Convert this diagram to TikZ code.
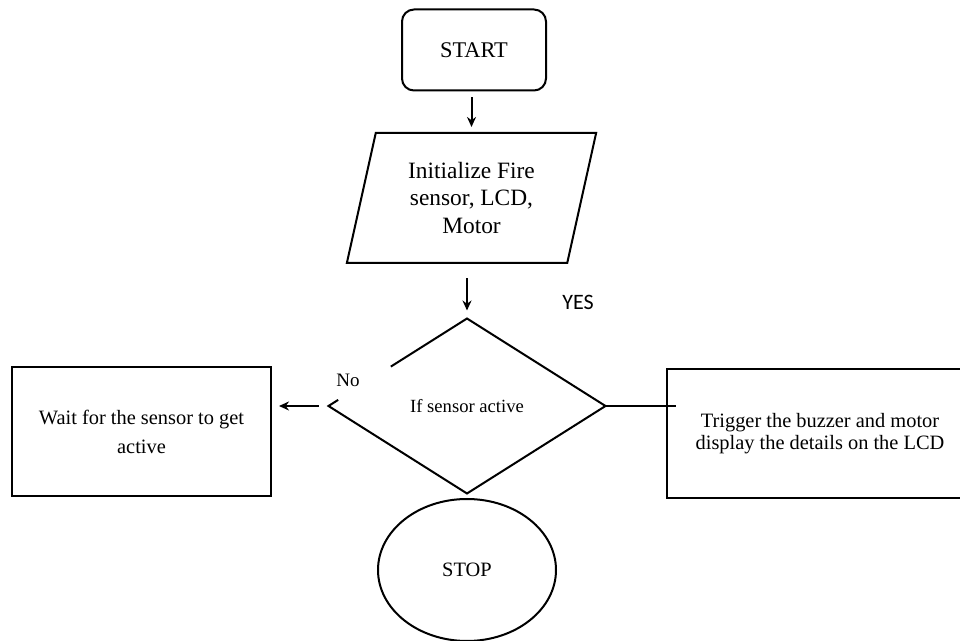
\documentclass[tikz,border=0pt]{standalone}
\usepackage{fontspec}
\setmainfont{Liberation Serif}
\newfontfamily\yesfont{Carlito}
\usetikzlibrary{arrows.meta, calc, positioning, shapes.geometric}

\begin{document}
\begin{tikzpicture}[>={Stealth[length=5pt, width=4.5pt]}, x=0.5pt, y=-0.5pt, line width=1pt,
  startbox/.style={draw, rounded corners=6pt, minimum width=72pt, minimum height=40.5pt, font=\fontsize{11.2}{13}\selectfont},
  iobox/.style={draw, trapezium, trapezium left angle=76, trapezium right angle=104, trapezium stretches=true, minimum width=125.5pt, minimum height=65pt, align=center, font=\fontsize{11.7}{13.75}\selectfont},
  decision/.style={diamond, minimum width=137.5pt, minimum height=86.5pt, font=\fontsize{9.3}{11}\selectfont},
  procbox/.style={draw, rectangle, align=center, minimum height=64.5pt, font=\fontsize{10.2}{14.5}\selectfont},
  stopnode/.style={draw, ellipse, minimum width=89pt, minimum height=71pt, inner sep=0pt, font=\fontsize{10.2}{12}\selectfont}
 ]
 \useasboundingbox (0,0) rectangle (960,641);
 \node [startbox] (start) at (474,50) {START};
 \node [iobox] (init) at (471.5,198) {Initialize Fire\\sensor, LCD,\\Motor};
 \node [decision] (dec) at (467,406) {If sensor active};
 \node [procbox, minimum width=129.5pt] (wait) at (141.5,431.5) {Wait for the sensor to get\\active};
 \node [procbox, minimum width=153pt, font=\fontsize{10.2}{11}\selectfont] (trig) at (820,433.5) {Trigger the buzzer and motor\\display the details on the LCD};
 \node [stopnode] (stop) at (467,570) {STOP};
 \node [font=\fontsize{9.5}{11}\selectfont] (no) at (348,380) {No};
 \node [font=\yesfont\fontsize{11}{13}\selectfont] (yes) at (578,302) {YES};

 % decision outline, open on the upper left
 \draw ($(dec.west)!0.45!(dec.north)$) -- (dec.north) -- (dec.east) -- (dec.south) -- (dec.west) -- ($(dec.west)!0.07!(dec.north)$);

 \draw [->, shorten <=3pt, shorten >=2.5pt] (init.north |- start.south) -- (init.north);
 \draw [->, shorten <=7pt, shorten >=4pt] (init.south -| dec.north) -- (dec.north);
 \draw [->, shorten <=5pt, shorten >=3.5pt] (dec.west) -- (dec.west -| wait.east);
 \draw [shorten >=-5pt] (dec.east) -- (dec.east -| trig.west);
\end{tikzpicture}
\end{document}
